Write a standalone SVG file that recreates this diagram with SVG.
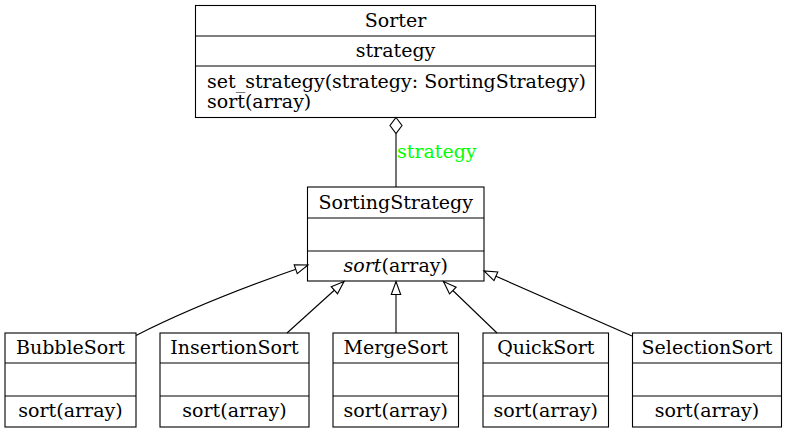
<svg xmlns="http://www.w3.org/2000/svg" width="789" height="433" viewBox="0 0 789 433">
<style>
.box{fill:#fff;stroke:#000;stroke-width:1.1}
.div{stroke:#000;stroke-width:1.1}
text{font-family:"DejaVu Serif","Liberation Serif",serif;font-size:19px;fill:#000}
.c{text-anchor:middle}
.edge{fill:none;stroke:#000;stroke-width:1.1}
.lbl{fill:#00ff00}
</style>
<defs>
<marker id="tri" markerUnits="userSpaceOnUse" markerWidth="16" markerHeight="12" refX="14" refY="6" orient="auto" overflow="visible">
<path d="M1,1.3 L14,6 L1,10.7 Z" fill="#fff" stroke="#000" stroke-width="1.1"/>
</marker>
</defs>
<rect width="789" height="433" fill="#fff"/>
<g id="Sorter">
<rect class="box" x="195.5" y="5.5" width="400" height="112"/>
<line class="div" x1="195.5" y1="36" x2="595.5" y2="36"/>
<line class="div" x1="195.5" y1="66" x2="595.5" y2="66"/>
<text class="c" x="395.5" y="27">Sorter</text>
<text class="c" x="395.5" y="57">strategy</text>
<text x="207" y="87.5">set_strategy(strategy: SortingStrategy)</text>
<text x="207" y="107.5">sort(array)</text>
</g>
<g id="SortingStrategy">
<rect class="box" x="307.5" y="187" width="176.5" height="94"/>
<line class="div" x1="307.5" y1="218" x2="484" y2="218"/>
<line class="div" x1="307.5" y1="251" x2="484" y2="251"/>
<text class="c" x="395.75" y="208.5">SortingStrategy</text>
<text class="c" x="395.75" y="271.5"><tspan font-style="italic">sort</tspan>(array)</text>
</g>
<g id="BubbleSort">
<rect class="box" x="5" y="333" width="131" height="94"/>
<line class="div" x1="5" y1="363" x2="136" y2="363"/>
<line class="div" x1="5" y1="396" x2="136" y2="396"/>
<text class="c" x="70.5" y="353.5">BubbleSort</text>
<text class="c" x="70.5" y="416.5">sort(array)</text>
</g>
<g id="InsertionSort">
<rect class="box" x="160" y="333" width="149" height="94"/>
<line class="div" x1="160" y1="363" x2="309" y2="363"/>
<line class="div" x1="160" y1="396" x2="309" y2="396"/>
<text class="c" x="234.5" y="353.5">InsertionSort</text>
<text class="c" x="234.5" y="416.5">sort(array)</text>
</g>
<g id="MergeSort">
<rect class="box" x="333" y="333" width="125.5" height="94"/>
<line class="div" x1="333" y1="363" x2="458.5" y2="363"/>
<line class="div" x1="333" y1="396" x2="458.5" y2="396"/>
<text class="c" x="395.75" y="353.5">MergeSort</text>
<text class="c" x="395.75" y="416.5">sort(array)</text>
</g>
<g id="QuickSort">
<rect class="box" x="483" y="333" width="125.5" height="94"/>
<line class="div" x1="483" y1="363" x2="608.5" y2="363"/>
<line class="div" x1="483" y1="396" x2="608.5" y2="396"/>
<text class="c" x="545.75" y="353.5">QuickSort</text>
<text class="c" x="545.75" y="416.5">sort(array)</text>
</g>
<g id="SelectionSort">
<rect class="box" x="632.5" y="333" width="149" height="94"/>
<line class="div" x1="632.5" y1="363" x2="781.5" y2="363"/>
<line class="div" x1="632.5" y1="396" x2="781.5" y2="396"/>
<text class="c" x="707" y="353.5">SelectionSort</text>
<text class="c" x="707" y="416.5">sort(array)</text>
</g>
<g id="connectors">
<path class="edge" d="M396,133.5 L396,187"/>
<polygon points="396,117.5 402,125.5 396,133.5 390,125.5" fill="#fff" stroke="#000" stroke-width="1.1"/>
<text class="lbl" x="397" y="157.5">strategy</text>
<path class="edge" d="M136,335.5 C190,308 250,285 308,265" marker-end="url(#tri)"/>
<path class="edge" d="M287,333 L344,281.5" marker-end="url(#tri)"/>
<path class="edge" d="M396,333 L396,281.5" marker-end="url(#tri)"/>
<path class="edge" d="M497,333 L443.5,281.5" marker-end="url(#tri)"/>
<path class="edge" d="M632,336 L484,271" marker-end="url(#tri)"/>
</g>
</svg>
